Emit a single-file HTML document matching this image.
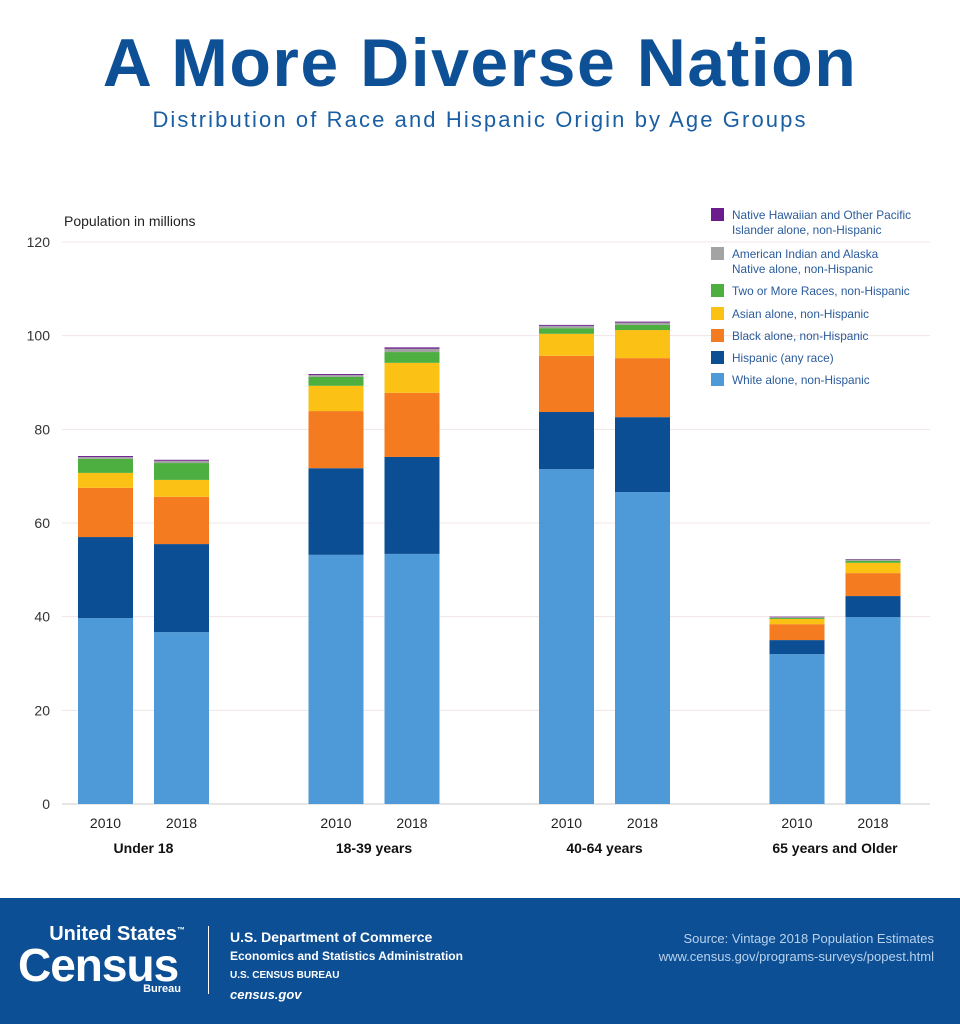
<!DOCTYPE html>
<html><head><meta charset="utf-8"><style>
body{margin:0;width:960px;height:1024px;background:#fff;font-family:"Liberation Sans",sans-serif;overflow:hidden;position:relative}
.t{position:absolute;left:0;width:960px;text-align:center;white-space:nowrap}
</style></head><body>
<div class="t" style="top:24px;font-size:68px;font-weight:bold;color:#0d5096;letter-spacing:1.5px">A More Diverse Nation</div>
<div class="t" style="top:107px;font-size:22px;color:#1a5fa3;letter-spacing:2.1px">Distribution of Race and Hispanic Origin by Age Groups</div>
<svg id="chart" width="960" height="880" style="position:absolute;left:0;top:0"></svg>
<div style="position:absolute;left:0;top:898px;width:960px;height:126px;background:#0d4f94;color:#fff">
 <div style="position:absolute;left:18px;top:26px;width:175px;line-height:1">
  <div style="font-size:20px;font-weight:bold;text-align:right;padding-right:8px">United States<sup style="font-size:8px">™</sup></div>
  <div style="font-size:46px;font-weight:bold;letter-spacing:-1px;margin-top:-2px">Census</div>
  <div style="font-size:11px;font-weight:bold;text-align:right;padding-right:12px;margin-top:-4px">Bureau</div>
 </div>
 <div style="position:absolute;left:208px;top:28px;width:1px;height:68px;background:#fff"></div>
 <div style="position:absolute;left:230px;top:30px;font-size:13px;font-weight:bold;line-height:19px">
  <div style="font-size:14px">U.S. Department of Commerce</div>
  <div style="font-size:12px">Economics and Statistics Administration</div>
  <div style="font-size:10px">U.S. CENSUS BUREAU</div>
  <div style="font-style:italic">census.gov</div>
 </div>
 <div style="position:absolute;right:26px;top:32px;text-align:right;font-size:13px;line-height:18px;color:#b8d2ee">Source: Vintage 2018 Population Estimates<br>www.census.gov/programs-surveys/popest.html</div>
</div>
<script>
const groups=["Under 18","18-39 years","40-64 years","65 years and Older"];
const years=["2010","2018"];
const seriesNames=["White alone, non-Hispanic","Hispanic (any race)","Black alone, non-Hispanic","Asian alone, non-Hispanic","Two or More Races, non-Hispanic","American Indian and Alaska Native alone, non-Hispanic","Native Hawaiian and Other Pacific Islander alone, non-Hispanic"];
const white=[39.7,36.7,53.2,53.4,71.5,66.6,32.0,39.9];
const hispanic=[17.3,18.8,18.5,20.7,12.2,16.0,3.0,4.5];
const black=[10.5,10.1,12.2,13.7,12.0,12.6,3.4,4.9];
const asian=[3.2,3.6,5.4,6.4,4.7,6.0,1.1,2.2];
const twoMore=[3.0,3.6,1.9,2.3,1.2,1.1,0.2,0.4];
const aian=[0.4,0.5,0.4,0.7,0.5,0.5,0.2,0.3];
const nhpi=[0.2,0.2,0.2,0.3,0.2,0.2,0.1,0.1];
const yTicks=[0,20,40,60,80,100,120];
const colors=["#4e9ad8","#0c4e93","#f47b20","#fbc114","#4daf3f","#a3a3a3","#6b1d8e"];
const NS="http://www.w3.org/2000/svg",svg=document.getElementById('chart');
const y0=804,yTop=242,yMax=120;
const y=v=>y0-v/yMax*(y0-yTop);
const bx=i=>{const g=Math.floor(i/2),k=i%2;return 78+g*230.5+k*76;};
const bw=55;
function mk(t,a,txt){const e=document.createElementNS(NS,t);for(const k in a)e.setAttribute(k,a[k]);if(txt!==undefined)e.textContent=txt;svg.appendChild(e);return e;}
yTicks.forEach(v=>{
 const l=mk('line',{x1:62,x2:930,y1:y(v),y2:y(v),stroke:v?'#f0e4e4':'#ccc','stroke-width':1});
 
 
 const t=mk('text',{x:50,y:y(v)+5,'text-anchor':'end','font-size':14,fill:'#333'},String(v));
 
 
});
const yt=mk('text',{x:64,y:226,'font-size':14,fill:'#222'},'Population in millions');


const all=[white,hispanic,black,asian,twoMore,aian,nhpi];
for(let i=0;i<white.length;i++){
 let acc=0;
 all.forEach((s,j)=>{
  const r=mk('rect',{x:bx(i),y:y(acc+s[i]),width:bw,height:y(acc)-y(acc+s[i]),fill:colors[j]});
  
  
  acc+=s[i];
 });
 const t=mk('text',{x:bx(i)+bw/2,y:828,'text-anchor':'middle','font-size':14,fill:'#222'},years[i%2]);
 
 
}
groups.forEach((g,gi)=>{
 const t=mk('text',{x:(bx(gi*2)+bx(gi*2+1)+bw)/2,y:853,'text-anchor':'middle','font-size':14,'font-weight':'bold',fill:'#111'},g);
 
 
});
const legendLines=[["Native Hawaiian and Other Pacific","Islander alone, non-Hispanic"],["American Indian and Alaska","Native alone, non-Hispanic"],["Two or More Races, non-Hispanic"],["Asian alone, non-Hispanic"],["Black alone, non-Hispanic"],["Hispanic (any race)"],["White alone, non-Hispanic"]];
const legY=[214,253,290,313,335,357,379];
legendLines.forEach((ls,i)=>{
 const ci=6-i;
 const r=mk('rect',{x:711,y:legY[i]-6,width:13,height:13,fill:colors[ci]});
 
 
 ls.forEach((s,k)=>{
  const t=mk('text',{x:732,y:legY[i]+5+k*15,'font-size':11.8,fill:'#2a5b9c'},s);
  
  
 });
});
</script>
</body></html>
